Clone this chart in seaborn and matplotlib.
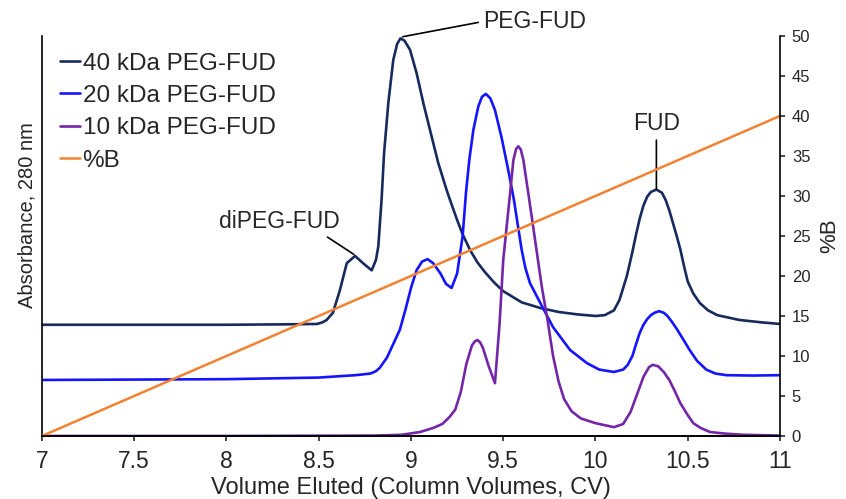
import pandas as pd
import seaborn as sns
import matplotlib
matplotlib.use('Agg')
import matplotlib.pyplot as plt

# 40 kDa PEG-FUD trace (right-axis units)
cv_40 = [7.0, 7.5, 8.0, 8.3, 8.49, 8.52, 8.543, 8.577, 8.615, 8.652, 8.697,
         8.74, 8.787, 8.81, 8.823, 8.841, 8.854, 8.877, 8.904, 8.925, 8.943,
         8.965, 8.995, 9.031, 9.067, 9.103, 9.148, 9.193, 9.21, 9.25, 9.28,
         9.32, 9.36, 9.40, 9.45, 9.5, 9.6, 9.7, 9.8, 9.9, 10.0, 10.05, 10.1,
         10.13, 10.17, 10.2, 10.22, 10.24, 10.26, 10.28, 10.3, 10.33, 10.36,
         10.38, 10.4, 10.42, 10.44, 10.46, 10.48, 10.5, 10.53, 10.566, 10.61,
         10.66, 10.78, 10.9, 11.0]
abs_40 = [13.9, 13.9, 13.9, 13.95, 14.0, 14.2, 14.5, 15.4, 18.25, 21.6, 22.5,
          21.6, 20.7, 22.0, 23.7, 29.7, 35.3, 41.6, 47.0, 49.0, 49.7, 49.4,
          48.25, 45.3, 41.6, 38.25, 34.1, 30.75, 29.6, 27.0, 25.2, 23.25,
          21.7, 20.5, 19.2, 18.1, 16.7, 16.0, 15.5, 15.2, 15.0, 15.1, 15.7,
          17.0, 20.0, 23.0, 25.2, 27.2, 28.8, 29.9, 30.5, 30.8, 30.4, 29.5,
          28.2, 26.6, 25.0, 23.3, 21.2, 19.3, 17.8, 16.6, 15.7, 15.1, 14.5,
          14.2, 14.0]

# 20 kDa PEG-FUD trace
cv_20 = [7.0, 7.5, 8.0, 8.5, 8.7, 8.78, 8.81, 8.83, 8.87, 8.91, 8.94, 8.97,
         9.0, 9.03, 9.06, 9.09, 9.12, 9.16, 9.19, 9.22, 9.25, 9.28, 9.298,
         9.316, 9.338, 9.365, 9.385, 9.406, 9.43, 9.455, 9.49, 9.527, 9.558,
         9.58, 9.6, 9.62, 9.645, 9.715, 9.77, 9.862, 9.954, 10.02, 10.1,
         10.15, 10.175, 10.2, 10.22, 10.24, 10.26, 10.28, 10.3, 10.32, 10.345,
         10.37, 10.39, 10.41, 10.44, 10.48, 10.51, 10.55, 10.6, 10.65, 10.71,
         10.85, 11.0]
abs_20 = [7.0, 7.05, 7.1, 7.3, 7.6, 7.8, 8.1, 8.5, 9.8, 11.8, 13.3, 15.8,
          18.5, 20.7, 21.8, 22.1, 21.6, 20.3, 19.0, 18.5, 20.3, 25.0, 30.4,
          34.5, 38.25, 41.2, 42.4, 42.75, 42.2, 40.75, 37.4, 33.25, 29.5,
          26.2, 23.25, 21.0, 19.1, 16.0, 13.6, 10.75, 9.1, 8.3, 8.0, 8.3, 8.9,
          10.0, 11.5, 12.9, 13.9, 14.6, 15.1, 15.4, 15.6, 15.4, 15.0, 14.4,
          13.4, 11.9, 10.75, 9.4, 8.3, 7.8, 7.6, 7.55, 7.6]

# 10 kDa PEG-FUD trace
cv_10 = [7.0, 8.0, 8.8, 8.95, 9.05, 9.12, 9.17, 9.21, 9.24, 9.27, 9.30, 9.33,
         9.345, 9.36, 9.375, 9.39, 9.42, 9.455, 9.48, 9.50, 9.52, 9.537,
         9.555, 9.57, 9.582, 9.595, 9.609, 9.636, 9.66, 9.68, 9.71, 9.74,
         9.77, 9.80, 9.83, 9.87, 9.92, 10.0, 10.1, 10.15, 10.19, 10.23,
         10.26, 10.29, 10.31, 10.34, 10.37, 10.40, 10.43, 10.46, 10.5, 10.53,
         10.57, 10.62, 10.7, 10.8, 11.0]
abs_10 = [0.0, 0.0, 0.05, 0.15, 0.5, 1.0, 1.5, 2.4, 3.3, 5.5, 9.0, 11.3, 11.8,
          12.0, 11.7, 11.0, 8.8, 6.6, 14.0, 22.0, 26.5, 30.3, 34.5, 35.9,
          36.2, 35.8, 34.5, 30.3, 26.5, 23.3, 18.5, 14.5, 10.0, 6.8, 4.6,
          3.1, 2.2, 1.6, 1.1, 1.5, 3.0, 5.5, 7.4, 8.6, 8.9, 8.7, 8.0, 7.0,
          5.6, 4.1, 2.6, 1.6, 1.0, 0.5, 0.3, 0.15, 0.05]

# %B gradient
cv_grad = [7.0, 11.0]
pct_b = [0.0, 40.0]

series_names = ['40 kDa PEG-FUD', '20 kDa PEG-FUD', '10 kDa PEG-FUD']
colors = {'40 kDa PEG-FUD': '#172a5e', '20 kDa PEG-FUD': '#1414ff',
          '10 kDa PEG-FUD': '#7326a8'}
orange = '#f08232'

xticks = [7, 7.5, 8, 8.5, 9, 9.5, 10, 10.5, 11]
xtick_labels = ['7', '7.5', '8', '8.5', '9', '9.5', '10', '10.5', '11']
yticks_b = list(range(0, 55, 5))

sns.set_style('white')
plt.rcParams['font.family'] = ['Liberation Sans', 'DejaVu Sans']
plt.rcParams['lines.solid_joinstyle'] = 'round'

frames = []
for name, xs, ys in zip(series_names, [cv_40, cv_20, cv_10],
                        [abs_40, abs_20, abs_10]):
    frames.append(pd.DataFrame({'cv': xs, 'abs': ys, 'sample': name}))
df = pd.concat(frames, ignore_index=True)
df_b = pd.DataFrame({'cv': cv_grad, 'pct': pct_b})

fig = plt.figure(figsize=(8.46, 4.99), dpi=100)
ax = fig.add_axes([0.0496, 0.1263, 0.8724, 0.8017])
ax2 = ax.twinx()

sns.lineplot(data=df, x='cv', y='abs', hue='sample', hue_order=series_names,
             palette=colors, estimator=None, linewidth=1.9, legend=False,
             ax=ax)
sns.lineplot(data=df_b, x='cv', y='pct', color=orange, linewidth=1.8,
             estimator=None, legend=False, ax=ax2)

ax.set_xlim(7, 11)
ax.set_ylim(0, 50)
ax2.set_ylim(0, 50)
ax.set_xticks(xticks)
ax.set_xticklabels(xtick_labels)
ax.set_yticks([])
ax2.set_yticks(yticks_b)

ax.tick_params(axis='x', direction='out', length=3.8, width=1.2,
               labelsize=16.5, bottom=True, pad=6.5)
ax2.tick_params(axis='y', direction='out', length=3.5, width=1.2,
                labelsize=12, right=True, pad=5)

for a in (ax, ax2):
    a.spines['top'].set_visible(False)
    for s in a.spines.values():
        s.set_linewidth(1.2)
        s.set_color('black')
ax.spines['right'].set_visible(False)
ax2.spines['left'].set_visible(False)

ax.set_xlabel('Volume Eluted (Column Volumes, CV)', fontsize=17, labelpad=3)
ax.set_ylabel('Absorbance, 280 nm', fontsize=14.5)
ax.yaxis.set_label_coords(-0.008, 0.5525)
ax2.set_ylabel('%B', fontsize=16, labelpad=6)

# peak labels
ax.annotate('PEG-FUD', xy=(8.955, 49.9), xytext=(9.39, 51.8),
            fontsize=16.5, ha='left', va='center', annotation_clip=False,
            arrowprops=dict(arrowstyle='-', color='black', lw=1.2,
                            relpos=(0, 0.5), shrinkA=1, shrinkB=0))
ax.annotate('FUD', xy=(10.33, 30.9), xytext=(10.33, 39.0),
            fontsize=16.5, ha='center', va='center',
            arrowprops=dict(arrowstyle='-', color='black', lw=1.2,
                            relpos=(0.5, 0), shrinkA=1, shrinkB=0))
ax.annotate('diPEG-FUD', xy=(8.69, 22.7), xytext=(8.285, 26.8),
            fontsize=16.5, ha='center', va='center',
            arrowprops=dict(arrowstyle='-', color='black', lw=1.2,
                            relpos=(0.85, 0), shrinkA=1, shrinkB=0))

handles = list(ax.get_lines()[:3]) + [ax2.get_lines()[0]]
labels = series_names + ['%B']
ax2.legend(handles, labels, loc='upper left', bbox_to_anchor=(0.005, 0.995),
           frameon=False, fontsize=17.5, handlelength=0.8, handletextpad=0.12,
           labelspacing=0.43, borderaxespad=0.2)

fig.savefig('out.png', dpi=100)
